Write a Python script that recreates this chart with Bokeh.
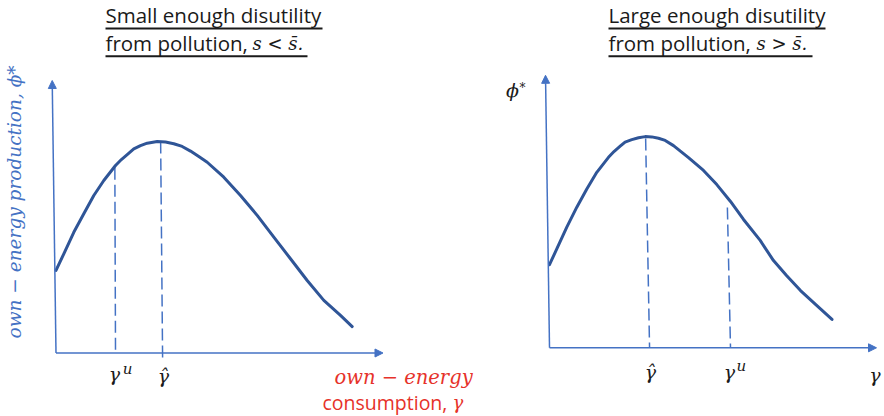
from math import pi
from bokeh.plotting import figure
from bokeh.layouts import row
from bokeh.models import Range1d, Arrow, NormalHead
from bokeh.core.properties import value
from bokeh.embed import file_html
from bokeh.resources import INLINE

# ---------------- data (diagram units, each axis runs 0..10) ----------------
left_gamma = [0.0, 0.239, 0.544, 0.850, 1.156, 1.462, 1.820, 2.000, 2.177, 2.379, 2.584, 2.789,
              3.095, 3.349, 3.602, 3.859, 4.113, 4.367, 4.624, 5.131, 5.642, 6.153, 6.661,
              7.171, 7.682, 8.190, 8.700, 9.058]
left_phi = [3.03, 3.64, 4.43, 5.11, 5.78, 6.33, 6.88, 7.10, 7.28, 7.49, 7.61, 7.70,
            7.76, 7.74, 7.68, 7.58, 7.41, 7.21, 7.00, 6.45, 5.78, 5.05, 4.25,
            3.46, 2.66, 1.93, 1.38, 0.97]
right_gamma = [0.0, 0.223, 0.529, 0.835, 1.141, 1.446, 1.804, 1.980, 2.162, 2.311, 2.517, 2.722,
               2.927, 3.128, 3.333, 3.538, 3.792, 4.251, 4.709, 5.116, 5.535, 5.933, 6.443,
               6.850, 7.248, 7.676, 8.135, 8.639]
right_phi = [3.05, 3.63, 4.43, 5.16, 5.83, 6.44, 6.99, 7.21, 7.40, 7.55, 7.64, 7.71,
             7.75, 7.74, 7.69, 7.61, 7.42, 6.98, 6.51, 5.99, 5.37, 4.71, 3.94,
             3.20, 2.65, 2.10, 1.59, 1.04]

# dashed guide lines: (x at top, x at bottom, y top, y bottom)
left_guides = {"gamma_u": (1.80, 1.82, 6.80, 0.0), "gamma_hat": (3.20, 3.26, 7.76, -0.2)}
right_guides = {"gamma_hat": (2.94, 3.06, 7.68, 0.0), "gamma_u": (5.44, 5.535, 5.15, 0.0)}

left_titles = ["Small enough disutility", "from pollution,", "s <  s\u0304."]
right_titles = ["Large enough disutility", "from pollution,", "s >  s\u0304."]

AXIS = "#4472c4"
CURVE = "#2f5597"
RED = "#e6322a"
BLACK = "#1a1a1a"
SANS = "Open Sans"
SERIF = "DejaVu Serif"
H = 416
LIFT = 0.147   # text baseline correction (about 4px)
TLIFT = 0.073  # extra lift for titles (about 2px)


def make_fig(w, xr, yr):
    p = figure(width=w, height=H, x_range=Range1d(*xr), y_range=Range1d(*yr),
               output_backend="svg", toolbar_location=None, min_border=0)
    p.axis.visible = False
    p.grid.visible = False
    p.outline_line_color = None
    p.background_fill_color = "white"
    p.border_fill_color = "white"
    return p


def txt(p, x, y, s, size, color=BLACK, font=SANS, style="normal", align="left",
        baseline="alphabetic", angle=0.0, lift=LIFT):
    p.text(x=[x], y=[y + lift], text=[s], text_font=value(font), text_font_size=value(f"{size}px"),
           text_font_style=style, text_color=color, text_align=align,
           text_baseline=baseline, angle=angle)


def axes(p, ytop_x):
    for (x0, y0, x1, y1) in [(0, 0, ytop_x, 10.0), (0, 0, 10.0, 0)]:
        p.add_layout(Arrow(x_start=x0, y_start=y0, x_end=x1, y_end=y1,
                           line_color=AXIS, line_width=1.5,
                           end=NormalHead(size=8, fill_color=AXIS, line_color=AXIS, line_width=1)))


def guides(p, g):
    for xt, xb, yt, yb in g.values():
        p.line([xt, xb], [yt, yb], line_color=AXIS, line_width=1.5, line_dash="12 5")


def titles(p, x0, base1, base2, math_x, ul1, ul2, t):
    txt(p, x0, base1, t[0], 20.5, lift=LIFT + TLIFT)
    txt(p, x0, base2, t[1], 20.5, lift=LIFT + TLIFT)
    txt(p, math_x, base2, t[2], 18, font=SERIF, style="italic", lift=LIFT + TLIFT)
    p.line([x0, ul1[0]], [ul1[1], ul1[1]], line_color=BLACK, line_width=2)
    p.line([x0, ul2[0]], [ul2[1], ul2[1]], line_color=BLACK, line_width=2)


# ---------------- left panel ----------------
pl = make_fig(490, (-1.6972, 13.2875), (-2.3303, 12.9358))
axes(pl, -0.116)
guides(pl, left_guides)
pl.line(left_gamma, left_phi, line_color=CURVE, line_width=3, line_join="round", line_cap="round")
titles(pl, 1.514, 12.176, 11.156, 6.009, (8.150, 11.908), (7.691, 10.892), left_titles)
txt(pl, -1.27, 5.651, "own \u2212 energy  production, \u03d5*", 18.5, color=AXIS, font=SERIF,
    style="italic", align="center", baseline="middle", angle=pi / 2, lift=0.0)
txt(pl, 1.789, -0.936, "\u03b3", 19, font=SERIF, style="italic", align="center")
txt(pl, 2.187, -0.716, "u", 15, font=SERIF, style="italic", align="center")
txt(pl, 3.287, -0.990, "\u03b3\u0302", 19, font=SERIF, style="italic", align="center")
txt(pl, 8.517, -1.046, "own \u2212  energy", 19.5, color=RED, font=SERIF, style="italic")
txt(pl, 8.150, -1.963, "consumption,", 19.5, color=RED)
txt(pl, 12.29, -1.963, "\u03b3", 18, color=RED, font=SERIF, style="italic", align="center")

# ---------------- right panel ----------------
pr = make_fig(394, (-1.8043, 10.2446), (-2.5211, 12.7450))
axes(pr, -0.122)
guides(pr, right_guides)
pr.line(right_gamma, right_phi, line_color=CURVE, line_width=3, line_join="round", line_cap="round")
titles(pr, 1.804, 11.985, 10.965, 6.330, (8.440, 11.717), (8.043, 10.701), right_titles)
txt(pr, -1.131, 9.31, "\u03d5", 19, font=SERIF, style="italic", align="center")
txt(pr, -0.826, 9.405, "*", 12, font=SERIF, style="normal", align="center")
txt(pr, 3.089, -1.053, "\u03b3\u0302", 19, font=SERIF, style="italic", align="center")
txt(pr, 5.50, -1.053, "\u03b3", 19, font=SERIF, style="italic", align="center")
txt(pr, 5.87, -0.80, "u", 15, font=SERIF, style="italic", align="center")
txt(pr, 10.122, -1.127, "\u03b3", 19, font=SERIF, style="italic", align="right")

layout = row(pl, pr, spacing=0)
open("out.html", "w").write(file_html(layout, INLINE))
